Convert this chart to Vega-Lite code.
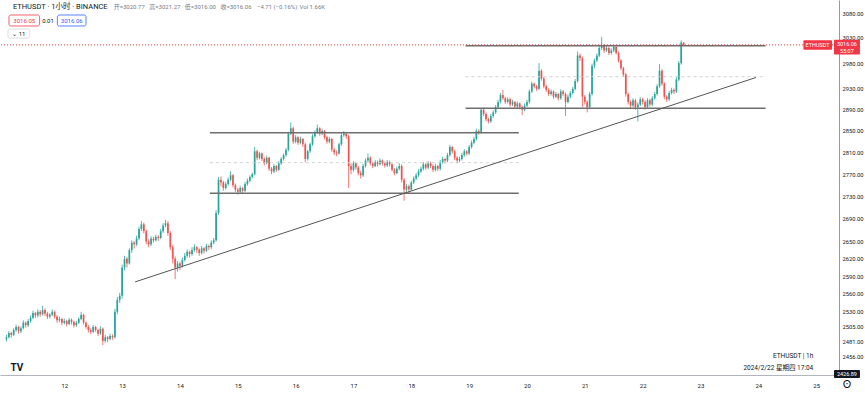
{
"$schema":"https://vega.github.io/schema/vega-lite/v6.json",
"width":839,"height":375,
"autosize":{"type":"none"},
"padding":{"left":0,"top":0,"right":26,"bottom":19},
"background":"#ffffff",
"config":{"view":{"stroke":null},"font":"Roboto, 'Noto Sans CJK SC', sans-serif"},
"datasets":{
"candles":[
{"t":"2024-02-11T00:00Z","o":2485,"h":2492,"l":2481,"c":2488},
{"t":"2024-02-11T01:00Z","o":2488,"h":2498,"l":2486,"c":2495},
{"t":"2024-02-11T02:00Z","o":2495,"h":2497,"l":2487,"c":2492},
{"t":"2024-02-11T03:00Z","o":2492,"h":2503,"l":2490,"c":2500},
{"t":"2024-02-11T04:00Z","o":2500,"h":2509,"l":2497,"c":2505},
{"t":"2024-02-11T05:00Z","o":2505,"h":2507,"l":2494,"c":2498},
{"t":"2024-02-11T06:00Z","o":2498,"h":2506,"l":2495,"c":2503},
{"t":"2024-02-11T07:00Z","o":2503,"h":2516,"l":2501,"c":2512},
{"t":"2024-02-11T08:00Z","o":2512,"h":2514,"l":2504,"c":2508},
{"t":"2024-02-11T09:00Z","o":2508,"h":2518,"l":2505,"c":2515},
{"t":"2024-02-11T10:00Z","o":2515,"h":2524,"l":2512,"c":2520},
{"t":"2024-02-11T11:00Z","o":2520,"h":2532,"l":2518,"c":2528},
{"t":"2024-02-11T12:00Z","o":2528,"h":2530,"l":2520,"c":2524},
{"t":"2024-02-11T13:00Z","o":2524,"h":2534,"l":2521,"c":2530},
{"t":"2024-02-11T14:00Z","o":2530,"h":2533,"l":2522,"c":2526},
{"t":"2024-02-11T15:00Z","o":2526,"h":2540,"l":2524,"c":2533},
{"t":"2024-02-11T16:00Z","o":2533,"h":2536,"l":2523,"c":2527},
{"t":"2024-02-11T17:00Z","o":2527,"h":2530,"l":2518,"c":2522},
{"t":"2024-02-11T18:00Z","o":2522,"h":2528,"l":2519,"c":2525},
{"t":"2024-02-11T19:00Z","o":2525,"h":2534,"l":2523,"c":2530},
{"t":"2024-02-11T20:00Z","o":2530,"h":2532,"l":2519,"c":2522},
{"t":"2024-02-11T21:00Z","o":2522,"h":2525,"l":2512,"c":2516},
{"t":"2024-02-11T22:00Z","o":2516,"h":2522,"l":2513,"c":2518},
{"t":"2024-02-11T23:00Z","o":2518,"h":2520,"l":2508,"c":2512},
{"t":"2024-02-12T00:00Z","o":2512,"h":2519,"l":2509,"c":2515},
{"t":"2024-02-12T01:00Z","o":2515,"h":2517,"l":2506,"c":2510},
{"t":"2024-02-12T02:00Z","o":2510,"h":2520,"l":2508,"c":2517},
{"t":"2024-02-12T03:00Z","o":2517,"h":2519,"l":2509,"c":2513},
{"t":"2024-02-12T04:00Z","o":2513,"h":2515,"l":2504,"c":2508},
{"t":"2024-02-12T05:00Z","o":2508,"h":2515,"l":2505,"c":2512},
{"t":"2024-02-12T06:00Z","o":2512,"h":2521,"l":2510,"c":2518},
{"t":"2024-02-12T07:00Z","o":2518,"h":2530,"l":2516,"c":2525},
{"t":"2024-02-12T08:00Z","o":2525,"h":2527,"l":2509,"c":2512},
{"t":"2024-02-12T09:00Z","o":2512,"h":2514,"l":2502,"c":2505},
{"t":"2024-02-12T10:00Z","o":2505,"h":2508,"l":2496,"c":2500},
{"t":"2024-02-12T11:00Z","o":2500,"h":2503,"l":2493,"c":2497},
{"t":"2024-02-12T12:00Z","o":2497,"h":2508,"l":2495,"c":2505},
{"t":"2024-02-12T13:00Z","o":2505,"h":2507,"l":2497,"c":2500},
{"t":"2024-02-12T14:00Z","o":2500,"h":2502,"l":2490,"c":2494},
{"t":"2024-02-12T15:00Z","o":2494,"h":2506,"l":2492,"c":2502},
{"t":"2024-02-12T16:00Z","o":2502,"h":2504,"l":2475,"c":2482},
{"t":"2024-02-12T17:00Z","o":2482,"h":2492,"l":2479,"c":2488},
{"t":"2024-02-12T18:00Z","o":2488,"h":2490,"l":2480,"c":2485},
{"t":"2024-02-12T19:00Z","o":2485,"h":2494,"l":2483,"c":2490},
{"t":"2024-02-12T20:00Z","o":2490,"h":2493,"l":2484,"c":2488},
{"t":"2024-02-12T21:00Z","o":2488,"h":2535,"l":2486,"c":2530},
{"t":"2024-02-12T22:00Z","o":2530,"h":2555,"l":2526,"c":2550},
{"t":"2024-02-12T23:00Z","o":2550,"h":2562,"l":2545,"c":2557},
{"t":"2024-02-13T00:00Z","o":2557,"h":2610,"l":2552,"c":2605},
{"t":"2024-02-13T01:00Z","o":2605,"h":2625,"l":2600,"c":2620},
{"t":"2024-02-13T02:00Z","o":2620,"h":2623,"l":2605,"c":2612},
{"t":"2024-02-13T03:00Z","o":2612,"h":2638,"l":2610,"c":2635},
{"t":"2024-02-13T04:00Z","o":2635,"h":2652,"l":2630,"c":2648},
{"t":"2024-02-13T05:00Z","o":2648,"h":2651,"l":2638,"c":2645},
{"t":"2024-02-13T06:00Z","o":2645,"h":2660,"l":2642,"c":2655},
{"t":"2024-02-13T07:00Z","o":2655,"h":2676,"l":2652,"c":2672},
{"t":"2024-02-13T08:00Z","o":2672,"h":2686,"l":2668,"c":2680},
{"t":"2024-02-13T09:00Z","o":2680,"h":2683,"l":2664,"c":2668},
{"t":"2024-02-13T10:00Z","o":2668,"h":2671,"l":2645,"c":2650},
{"t":"2024-02-13T11:00Z","o":2650,"h":2654,"l":2640,"c":2645},
{"t":"2024-02-13T12:00Z","o":2645,"h":2659,"l":2642,"c":2655},
{"t":"2024-02-13T13:00Z","o":2655,"h":2658,"l":2648,"c":2652},
{"t":"2024-02-13T14:00Z","o":2652,"h":2662,"l":2650,"c":2658},
{"t":"2024-02-13T15:00Z","o":2658,"h":2661,"l":2651,"c":2656},
{"t":"2024-02-13T16:00Z","o":2656,"h":2672,"l":2654,"c":2668},
{"t":"2024-02-13T17:00Z","o":2668,"h":2682,"l":2665,"c":2678},
{"t":"2024-02-13T18:00Z","o":2678,"h":2688,"l":2675,"c":2682},
{"t":"2024-02-13T19:00Z","o":2682,"h":2686,"l":2660,"c":2665},
{"t":"2024-02-13T20:00Z","o":2665,"h":2668,"l":2635,"c":2640},
{"t":"2024-02-13T21:00Z","o":2640,"h":2644,"l":2612,"c":2620},
{"t":"2024-02-13T22:00Z","o":2620,"h":2624,"l":2585,"c":2605},
{"t":"2024-02-13T23:00Z","o":2605,"h":2616,"l":2598,"c":2612},
{"t":"2024-02-14T00:00Z","o":2612,"h":2615,"l":2600,"c":2608},
{"t":"2024-02-14T01:00Z","o":2608,"h":2622,"l":2605,"c":2618},
{"t":"2024-02-14T02:00Z","o":2618,"h":2630,"l":2615,"c":2625},
{"t":"2024-02-14T03:00Z","o":2625,"h":2636,"l":2622,"c":2632},
{"t":"2024-02-14T04:00Z","o":2632,"h":2634,"l":2622,"c":2628},
{"t":"2024-02-14T05:00Z","o":2628,"h":2640,"l":2625,"c":2635},
{"t":"2024-02-14T06:00Z","o":2635,"h":2645,"l":2632,"c":2640},
{"t":"2024-02-14T07:00Z","o":2640,"h":2642,"l":2630,"c":2636},
{"t":"2024-02-14T08:00Z","o":2636,"h":2638,"l":2625,"c":2630},
{"t":"2024-02-14T09:00Z","o":2630,"h":2642,"l":2627,"c":2638},
{"t":"2024-02-14T10:00Z","o":2638,"h":2640,"l":2629,"c":2634},
{"t":"2024-02-14T11:00Z","o":2634,"h":2646,"l":2632,"c":2642},
{"t":"2024-02-14T12:00Z","o":2642,"h":2645,"l":2635,"c":2640},
{"t":"2024-02-14T13:00Z","o":2640,"h":2652,"l":2637,"c":2648},
{"t":"2024-02-14T14:00Z","o":2648,"h":2656,"l":2645,"c":2652},
{"t":"2024-02-14T15:00Z","o":2652,"h":2705,"l":2650,"c":2700},
{"t":"2024-02-14T16:00Z","o":2700,"h":2765,"l":2697,"c":2760},
{"t":"2024-02-14T17:00Z","o":2760,"h":2766,"l":2748,"c":2755},
{"t":"2024-02-14T18:00Z","o":2755,"h":2758,"l":2740,"c":2745},
{"t":"2024-02-14T19:00Z","o":2745,"h":2756,"l":2742,"c":2752},
{"t":"2024-02-14T20:00Z","o":2752,"h":2764,"l":2749,"c":2760},
{"t":"2024-02-14T21:00Z","o":2760,"h":2775,"l":2757,"c":2768},
{"t":"2024-02-14T22:00Z","o":2768,"h":2770,"l":2746,"c":2750},
{"t":"2024-02-14T23:00Z","o":2750,"h":2753,"l":2738,"c":2742},
{"t":"2024-02-15T00:00Z","o":2742,"h":2745,"l":2733,"c":2738},
{"t":"2024-02-15T01:00Z","o":2738,"h":2749,"l":2735,"c":2745},
{"t":"2024-02-15T02:00Z","o":2745,"h":2747,"l":2734,"c":2740},
{"t":"2024-02-15T03:00Z","o":2740,"h":2756,"l":2738,"c":2752},
{"t":"2024-02-15T04:00Z","o":2752,"h":2762,"l":2749,"c":2758},
{"t":"2024-02-15T05:00Z","o":2758,"h":2768,"l":2755,"c":2765},
{"t":"2024-02-15T06:00Z","o":2765,"h":2773,"l":2762,"c":2770},
{"t":"2024-02-15T07:00Z","o":2770,"h":2820,"l":2768,"c":2812},
{"t":"2024-02-15T08:00Z","o":2812,"h":2815,"l":2796,"c":2800},
{"t":"2024-02-15T09:00Z","o":2800,"h":2811,"l":2797,"c":2808},
{"t":"2024-02-15T10:00Z","o":2808,"h":2810,"l":2794,"c":2798},
{"t":"2024-02-15T11:00Z","o":2798,"h":2801,"l":2786,"c":2790},
{"t":"2024-02-15T12:00Z","o":2790,"h":2804,"l":2788,"c":2800},
{"t":"2024-02-15T13:00Z","o":2800,"h":2802,"l":2776,"c":2780},
{"t":"2024-02-15T14:00Z","o":2780,"h":2783,"l":2770,"c":2775},
{"t":"2024-02-15T15:00Z","o":2775,"h":2789,"l":2772,"c":2785},
{"t":"2024-02-15T16:00Z","o":2785,"h":2787,"l":2774,"c":2778},
{"t":"2024-02-15T17:00Z","o":2778,"h":2794,"l":2776,"c":2790},
{"t":"2024-02-15T18:00Z","o":2790,"h":2801,"l":2787,"c":2798},
{"t":"2024-02-15T19:00Z","o":2798,"h":2808,"l":2795,"c":2805},
{"t":"2024-02-15T20:00Z","o":2805,"h":2818,"l":2802,"c":2815},
{"t":"2024-02-15T21:00Z","o":2815,"h":2848,"l":2812,"c":2845},
{"t":"2024-02-15T22:00Z","o":2845,"h":2866,"l":2842,"c":2855},
{"t":"2024-02-15T23:00Z","o":2855,"h":2858,"l":2826,"c":2830},
{"t":"2024-02-16T00:00Z","o":2830,"h":2842,"l":2827,"c":2838},
{"t":"2024-02-16T01:00Z","o":2838,"h":2840,"l":2824,"c":2828},
{"t":"2024-02-16T02:00Z","o":2828,"h":2839,"l":2825,"c":2835},
{"t":"2024-02-16T03:00Z","o":2835,"h":2837,"l":2820,"c":2825},
{"t":"2024-02-16T04:00Z","o":2825,"h":2828,"l":2792,"c":2798},
{"t":"2024-02-16T05:00Z","o":2798,"h":2815,"l":2795,"c":2812},
{"t":"2024-02-16T06:00Z","o":2812,"h":2828,"l":2809,"c":2825},
{"t":"2024-02-16T07:00Z","o":2825,"h":2844,"l":2822,"c":2840},
{"t":"2024-02-16T08:00Z","o":2840,"h":2851,"l":2837,"c":2848},
{"t":"2024-02-16T09:00Z","o":2848,"h":2862,"l":2845,"c":2855},
{"t":"2024-02-16T10:00Z","o":2855,"h":2857,"l":2841,"c":2845},
{"t":"2024-02-16T11:00Z","o":2845,"h":2854,"l":2842,"c":2850},
{"t":"2024-02-16T12:00Z","o":2850,"h":2852,"l":2834,"c":2838},
{"t":"2024-02-16T13:00Z","o":2838,"h":2841,"l":2826,"c":2830},
{"t":"2024-02-16T14:00Z","o":2830,"h":2839,"l":2827,"c":2835},
{"t":"2024-02-16T15:00Z","o":2835,"h":2837,"l":2811,"c":2815},
{"t":"2024-02-16T16:00Z","o":2815,"h":2818,"l":2805,"c":2810},
{"t":"2024-02-16T17:00Z","o":2810,"h":2814,"l":2803,"c":2808},
{"t":"2024-02-16T18:00Z","o":2808,"h":2828,"l":2806,"c":2825},
{"t":"2024-02-16T19:00Z","o":2825,"h":2846,"l":2822,"c":2842},
{"t":"2024-02-16T20:00Z","o":2842,"h":2850,"l":2839,"c":2845},
{"t":"2024-02-16T21:00Z","o":2845,"h":2848,"l":2835,"c":2840},
{"t":"2024-02-16T22:00Z","o":2840,"h":2843,"l":2745,"c":2785},
{"t":"2024-02-16T23:00Z","o":2785,"h":2790,"l":2770,"c":2778},
{"t":"2024-02-17T00:00Z","o":2778,"h":2794,"l":2775,"c":2790},
{"t":"2024-02-17T01:00Z","o":2790,"h":2792,"l":2778,"c":2782},
{"t":"2024-02-17T02:00Z","o":2782,"h":2785,"l":2768,"c":2772},
{"t":"2024-02-17T03:00Z","o":2772,"h":2776,"l":2762,"c":2768},
{"t":"2024-02-17T04:00Z","o":2768,"h":2789,"l":2765,"c":2785},
{"t":"2024-02-17T05:00Z","o":2785,"h":2799,"l":2782,"c":2795},
{"t":"2024-02-17T06:00Z","o":2795,"h":2808,"l":2792,"c":2800},
{"t":"2024-02-17T07:00Z","o":2800,"h":2803,"l":2786,"c":2790},
{"t":"2024-02-17T08:00Z","o":2790,"h":2793,"l":2781,"c":2785},
{"t":"2024-02-17T09:00Z","o":2785,"h":2796,"l":2783,"c":2792},
{"t":"2024-02-17T10:00Z","o":2792,"h":2795,"l":2784,"c":2788},
{"t":"2024-02-17T11:00Z","o":2788,"h":2799,"l":2786,"c":2795},
{"t":"2024-02-17T12:00Z","o":2795,"h":2797,"l":2786,"c":2790},
{"t":"2024-02-17T13:00Z","o":2790,"h":2793,"l":2782,"c":2786},
{"t":"2024-02-17T14:00Z","o":2786,"h":2796,"l":2783,"c":2792},
{"t":"2024-02-17T15:00Z","o":2792,"h":2795,"l":2784,"c":2788},
{"t":"2024-02-17T16:00Z","o":2788,"h":2790,"l":2775,"c":2778},
{"t":"2024-02-17T17:00Z","o":2778,"h":2781,"l":2768,"c":2772},
{"t":"2024-02-17T18:00Z","o":2772,"h":2784,"l":2770,"c":2780},
{"t":"2024-02-17T19:00Z","o":2780,"h":2790,"l":2777,"c":2785},
{"t":"2024-02-17T20:00Z","o":2785,"h":2788,"l":2755,"c":2760},
{"t":"2024-02-17T21:00Z","o":2760,"h":2763,"l":2722,"c":2742},
{"t":"2024-02-17T22:00Z","o":2742,"h":2752,"l":2738,"c":2748},
{"t":"2024-02-17T23:00Z","o":2748,"h":2751,"l":2736,"c":2742},
{"t":"2024-02-18T00:00Z","o":2742,"h":2758,"l":2739,"c":2755},
{"t":"2024-02-18T01:00Z","o":2755,"h":2766,"l":2752,"c":2762},
{"t":"2024-02-18T02:00Z","o":2762,"h":2772,"l":2759,"c":2768},
{"t":"2024-02-18T03:00Z","o":2768,"h":2779,"l":2765,"c":2775},
{"t":"2024-02-18T04:00Z","o":2775,"h":2784,"l":2772,"c":2780},
{"t":"2024-02-18T05:00Z","o":2780,"h":2792,"l":2777,"c":2788},
{"t":"2024-02-18T06:00Z","o":2788,"h":2790,"l":2778,"c":2782},
{"t":"2024-02-18T07:00Z","o":2782,"h":2794,"l":2779,"c":2790},
{"t":"2024-02-18T08:00Z","o":2790,"h":2793,"l":2781,"c":2785},
{"t":"2024-02-18T09:00Z","o":2785,"h":2788,"l":2774,"c":2778},
{"t":"2024-02-18T10:00Z","o":2778,"h":2789,"l":2775,"c":2785},
{"t":"2024-02-18T11:00Z","o":2785,"h":2787,"l":2776,"c":2780},
{"t":"2024-02-18T12:00Z","o":2780,"h":2796,"l":2777,"c":2792},
{"t":"2024-02-18T13:00Z","o":2792,"h":2802,"l":2789,"c":2798},
{"t":"2024-02-18T14:00Z","o":2798,"h":2800,"l":2790,"c":2795},
{"t":"2024-02-18T15:00Z","o":2795,"h":2809,"l":2792,"c":2805},
{"t":"2024-02-18T16:00Z","o":2805,"h":2824,"l":2802,"c":2820},
{"t":"2024-02-18T17:00Z","o":2820,"h":2822,"l":2808,"c":2812},
{"t":"2024-02-18T18:00Z","o":2812,"h":2815,"l":2796,"c":2800},
{"t":"2024-02-18T19:00Z","o":2800,"h":2803,"l":2790,"c":2795},
{"t":"2024-02-18T20:00Z","o":2795,"h":2802,"l":2792,"c":2798},
{"t":"2024-02-18T21:00Z","o":2798,"h":2809,"l":2795,"c":2805},
{"t":"2024-02-18T22:00Z","o":2805,"h":2816,"l":2802,"c":2812},
{"t":"2024-02-18T23:00Z","o":2812,"h":2814,"l":2804,"c":2808},
{"t":"2024-02-19T00:00Z","o":2808,"h":2824,"l":2805,"c":2820},
{"t":"2024-02-19T01:00Z","o":2820,"h":2832,"l":2817,"c":2828},
{"t":"2024-02-19T02:00Z","o":2828,"h":2839,"l":2825,"c":2835},
{"t":"2024-02-19T03:00Z","o":2835,"h":2854,"l":2832,"c":2850},
{"t":"2024-02-19T04:00Z","o":2850,"h":2853,"l":2843,"c":2848},
{"t":"2024-02-19T05:00Z","o":2848,"h":2893,"l":2845,"c":2890},
{"t":"2024-02-19T06:00Z","o":2890,"h":2894,"l":2878,"c":2882},
{"t":"2024-02-19T07:00Z","o":2882,"h":2885,"l":2868,"c":2872},
{"t":"2024-02-19T08:00Z","o":2872,"h":2875,"l":2864,"c":2868},
{"t":"2024-02-19T09:00Z","o":2868,"h":2882,"l":2865,"c":2878},
{"t":"2024-02-19T10:00Z","o":2878,"h":2889,"l":2875,"c":2885},
{"t":"2024-02-19T11:00Z","o":2885,"h":2899,"l":2882,"c":2895},
{"t":"2024-02-19T12:00Z","o":2895,"h":2909,"l":2892,"c":2905},
{"t":"2024-02-19T13:00Z","o":2905,"h":2922,"l":2902,"c":2918},
{"t":"2024-02-19T14:00Z","o":2918,"h":2928,"l":2909,"c":2912},
{"t":"2024-02-19T15:00Z","o":2912,"h":2915,"l":2901,"c":2905},
{"t":"2024-02-19T16:00Z","o":2905,"h":2914,"l":2902,"c":2910},
{"t":"2024-02-19T17:00Z","o":2910,"h":2913,"l":2896,"c":2900},
{"t":"2024-02-19T18:00Z","o":2900,"h":2909,"l":2897,"c":2905},
{"t":"2024-02-19T19:00Z","o":2905,"h":2907,"l":2892,"c":2896},
{"t":"2024-02-19T20:00Z","o":2896,"h":2906,"l":2893,"c":2902},
{"t":"2024-02-19T21:00Z","o":2902,"h":2904,"l":2891,"c":2895},
{"t":"2024-02-19T22:00Z","o":2895,"h":2898,"l":2880,"c":2890},
{"t":"2024-02-19T23:00Z","o":2890,"h":2902,"l":2887,"c":2898},
{"t":"2024-02-20T00:00Z","o":2898,"h":2909,"l":2895,"c":2905},
{"t":"2024-02-20T01:00Z","o":2905,"h":2929,"l":2902,"c":2925},
{"t":"2024-02-20T02:00Z","o":2925,"h":2944,"l":2922,"c":2940},
{"t":"2024-02-20T03:00Z","o":2940,"h":2942,"l":2931,"c":2935},
{"t":"2024-02-20T04:00Z","o":2935,"h":2938,"l":2926,"c":2930},
{"t":"2024-02-20T05:00Z","o":2930,"h":2980,"l":2928,"c":2965},
{"t":"2024-02-20T06:00Z","o":2965,"h":2968,"l":2946,"c":2950},
{"t":"2024-02-20T07:00Z","o":2950,"h":2953,"l":2931,"c":2935},
{"t":"2024-02-20T08:00Z","o":2935,"h":2938,"l":2924,"c":2928},
{"t":"2024-02-20T09:00Z","o":2928,"h":2931,"l":2916,"c":2920},
{"t":"2024-02-20T10:00Z","o":2920,"h":2929,"l":2917,"c":2925},
{"t":"2024-02-20T11:00Z","o":2925,"h":2927,"l":2911,"c":2915},
{"t":"2024-02-20T12:00Z","o":2915,"h":2924,"l":2912,"c":2920},
{"t":"2024-02-20T13:00Z","o":2920,"h":2922,"l":2908,"c":2912},
{"t":"2024-02-20T14:00Z","o":2912,"h":2929,"l":2909,"c":2925},
{"t":"2024-02-20T15:00Z","o":2925,"h":2928,"l":2916,"c":2920},
{"t":"2024-02-20T16:00Z","o":2920,"h":2923,"l":2878,"c":2905},
{"t":"2024-02-20T17:00Z","o":2905,"h":2919,"l":2902,"c":2915},
{"t":"2024-02-20T18:00Z","o":2915,"h":2926,"l":2912,"c":2922},
{"t":"2024-02-20T19:00Z","o":2922,"h":2934,"l":2919,"c":2930},
{"t":"2024-02-20T20:00Z","o":2930,"h":2949,"l":2927,"c":2945},
{"t":"2024-02-20T21:00Z","o":2945,"h":3003,"l":2942,"c":2995},
{"t":"2024-02-20T22:00Z","o":2995,"h":2999,"l":2984,"c":2990},
{"t":"2024-02-20T23:00Z","o":2990,"h":2993,"l":2895,"c":2915},
{"t":"2024-02-21T00:00Z","o":2915,"h":2918,"l":2900,"c":2905},
{"t":"2024-02-21T01:00Z","o":2905,"h":2908,"l":2885,"c":2895},
{"t":"2024-02-21T02:00Z","o":2895,"h":2924,"l":2892,"c":2920},
{"t":"2024-02-21T03:00Z","o":2920,"h":2979,"l":2917,"c":2975},
{"t":"2024-02-21T04:00Z","o":2975,"h":2989,"l":2970,"c":2985},
{"t":"2024-02-21T05:00Z","o":2985,"h":2999,"l":2982,"c":2995},
{"t":"2024-02-21T06:00Z","o":2995,"h":3014,"l":2992,"c":3010},
{"t":"2024-02-21T07:00Z","o":3010,"h":3032,"l":3006,"c":3015},
{"t":"2024-02-21T08:00Z","o":3015,"h":3018,"l":3000,"c":3005},
{"t":"2024-02-21T09:00Z","o":3005,"h":3014,"l":3002,"c":3010},
{"t":"2024-02-21T10:00Z","o":3010,"h":3013,"l":2996,"c":3000},
{"t":"2024-02-21T11:00Z","o":3000,"h":3009,"l":2997,"c":3005},
{"t":"2024-02-21T12:00Z","o":3005,"h":3016,"l":3002,"c":3012},
{"t":"2024-02-21T13:00Z","o":3012,"h":3014,"l":2997,"c":3000},
{"t":"2024-02-21T14:00Z","o":3000,"h":3003,"l":2981,"c":2985},
{"t":"2024-02-21T15:00Z","o":2985,"h":2988,"l":2966,"c":2970},
{"t":"2024-02-21T16:00Z","o":2970,"h":2973,"l":2953,"c":2958},
{"t":"2024-02-21T17:00Z","o":2958,"h":2961,"l":2915,"c":2920},
{"t":"2024-02-21T18:00Z","o":2920,"h":2923,"l":2900,"c":2905},
{"t":"2024-02-21T19:00Z","o":2905,"h":2908,"l":2893,"c":2898},
{"t":"2024-02-21T20:00Z","o":2898,"h":2912,"l":2895,"c":2908},
{"t":"2024-02-21T21:00Z","o":2908,"h":2911,"l":2890,"c":2895},
{"t":"2024-02-21T22:00Z","o":2895,"h":2904,"l":2868,"c":2900},
{"t":"2024-02-21T23:00Z","o":2900,"h":2914,"l":2897,"c":2910},
{"t":"2024-02-22T00:00Z","o":2910,"h":2913,"l":2900,"c":2905},
{"t":"2024-02-22T01:00Z","o":2905,"h":2908,"l":2890,"c":2895},
{"t":"2024-02-22T02:00Z","o":2895,"h":2912,"l":2892,"c":2908},
{"t":"2024-02-22T03:00Z","o":2908,"h":2911,"l":2896,"c":2900},
{"t":"2024-02-22T04:00Z","o":2900,"h":2916,"l":2897,"c":2912},
{"t":"2024-02-22T05:00Z","o":2912,"h":2924,"l":2909,"c":2920},
{"t":"2024-02-22T06:00Z","o":2920,"h":2939,"l":2917,"c":2935},
{"t":"2024-02-22T07:00Z","o":2935,"h":2978,"l":2932,"c":2965},
{"t":"2024-02-22T08:00Z","o":2965,"h":2968,"l":2936,"c":2940},
{"t":"2024-02-22T09:00Z","o":2940,"h":2943,"l":2910,"c":2915},
{"t":"2024-02-22T10:00Z","o":2915,"h":2918,"l":2905,"c":2910},
{"t":"2024-02-22T11:00Z","o":2910,"h":2926,"l":2907,"c":2922},
{"t":"2024-02-22T12:00Z","o":2922,"h":2932,"l":2919,"c":2928},
{"t":"2024-02-22T13:00Z","o":2928,"h":2931,"l":2920,"c":2925},
{"t":"2024-02-22T14:00Z","o":2925,"h":2953,"l":2922,"c":2948},
{"t":"2024-02-22T15:00Z","o":2948,"h":2984,"l":2945,"c":2980},
{"t":"2024-02-22T16:00Z","o":2980,"h":3025,"l":2977,"c":3020.77},
{"t":"2024-02-22T17:00Z","o":3020.77,"h":3021.27,"l":3016,"c":3016.06}
],
"levels":[
{"t1":"2024-02-14T12:24Z","t2":"2024-02-19T20:36Z","p":2846.7},
{"t1":"2024-02-14T12:24Z","t2":"2024-02-19T20:36Z","p":2735.4},
{"t1":"2024-02-18T22:30Z","t2":"2024-02-24T03:00Z","p":3014.4},
{"t1":"2024-02-18T22:30Z","t2":"2024-02-24T03:00Z","p":2892.8}
],
"mids":[
{"t1":"2024-02-14T12:24Z","t2":"2024-02-19T20:36Z","p":2791},
{"t1":"2024-02-18T22:30Z","t2":"2024-02-24T03:00Z","p":2953.6}
],
"trend":[
{"t1":"2024-02-13T05:24Z","p1":2580.4,"t2":"2024-02-23T23:00Z","p2":2952}
]
},
"layer":[
{
"data":{"name":"candles"},
"mark":{"type":"rule","strokeWidth":0.8},
"encoding":{
"x":{"field":"t","type":"temporal","title":null,
"scale":{"type":"utc","nice":false,"domain":[{"year":2024,"month":2,"date":10,"hours":23,"minutes":24,"utc":true},{"year":2024,"month":2,"date":25,"hours":7,"minutes":24,"utc":true}]},
"axis":{"orient":"bottom","title":null,"grid":false,"ticks":false,"domainColor":"#b2b5be","labelColor":"#131722","labelFontSize":6,"labelPadding":7,"labelFlush":false,"labelOverlap":false,
"values":[{"year":2024,"month":2,"date":12,"utc":true},{"year":2024,"month":2,"date":13,"utc":true},{"year":2024,"month":2,"date":14,"utc":true},{"year":2024,"month":2,"date":15,"utc":true},{"year":2024,"month":2,"date":16,"utc":true},{"year":2024,"month":2,"date":17,"utc":true},{"year":2024,"month":2,"date":18,"utc":true},{"year":2024,"month":2,"date":19,"utc":true},{"year":2024,"month":2,"date":20,"utc":true},{"year":2024,"month":2,"date":21,"utc":true},{"year":2024,"month":2,"date":22,"utc":true},{"year":2024,"month":2,"date":23,"utc":true},{"year":2024,"month":2,"date":24,"utc":true},{"year":2024,"month":2,"date":25,"utc":true}],
"labelExpr":"utcFormat(datum.value, '%-d')"}},
"y":{"field":"l","type":"quantitative","title":null,
"scale":{"type":"log","domain":[2427,3106.5],"nice":false,"zero":false},
"axis":{"orient":"right","title":null,"grid":false,"ticks":false,"domainColor":"#9598a1","labelColor":"#131722","labelFontSize":5.8,"labelPadding":3,"labelFlush":false,"labelOverlap":false,"format":".2f",
"values":[3080,3030,2980,2930,2890,2850,2810,2770,2730,2690,2650,2620,2590,2560,2530,2505,2481,2456]}},
"y2":{"field":"h"},
"color":{"condition":{"test":"datum.c >= datum.o","value":"#26a69a"},"value":"#ef5350"}
}
},
{
"data":{"name":"candles"},
"mark":{"type":"bar","size":1.7},
"encoding":{
"x":{"field":"t","type":"temporal","title":null},
"y":{"field":"o","type":"quantitative","title":null},
"y2":{"field":"c"},
"color":{"condition":{"test":"datum.c >= datum.o","value":"#26a69a"},"value":"#ef5350"}
}
},
{
"data":{"name":"mids"},
"mark":{"type":"rule","stroke":"#cfd1d6","strokeWidth":1,"strokeDash":[3,3]},
"encoding":{
"x":{"field":"t1","type":"temporal","title":null},
"x2":{"field":"t2"},
"y":{"field":"p","type":"quantitative","title":null}
}
},
{
"data":{"name":"levels"},
"mark":{"type":"rule","stroke":"#6e6e6e","strokeWidth":1.4},
"encoding":{
"x":{"field":"t1","type":"temporal","title":null},
"x2":{"field":"t2"},
"y":{"field":"p","type":"quantitative","title":null}
}
},
{
"data":{"name":"trend"},
"mark":{"type":"rule","stroke":"#555555","strokeWidth":1},
"encoding":{
"x":{"field":"t1","type":"temporal","title":null},
"x2":{"field":"t2"},
"y":{"field":"p1","type":"quantitative","title":null},
"y2":{"field":"p2"}
}
},
{
"data":{"values":[{"p":3016.06}]},
"mark":{"type":"rule","stroke":"#f23645","strokeWidth":1,"strokeDash":[1,2]},
"encoding":{"y":{"field":"p","type":"quantitative","title":null}}
},
{
"data":{"values":[{"t":"2024-02-11T01:03Z","t2":"2024-02-11T13:46Z","p":3076,"p2":3053.8}]},
"mark":{"type":"rect","cornerRadius":2,"fill":"#ffffff","stroke":"#f23645","strokeWidth":0.8,"clip":false},
"encoding":{"x":{"field":"t","type":"temporal","title":null},"x2":{"field":"t2"},"y":{"field":"p","type":"quantitative","title":null},"y2":{"field":"p2"}}
},
{
"data":{"values":[{"t":"2024-02-11T21:08Z","t2":"2024-02-12T09:01Z","p":3076,"p2":3053.8}]},
"mark":{"type":"rect","cornerRadius":2,"fill":"#ffffff","stroke":"#2962ff","strokeWidth":0.8,"clip":false},
"encoding":{"x":{"field":"t","type":"temporal","title":null},"x2":{"field":"t2"},"y":{"field":"p","type":"quantitative","title":null},"y2":{"field":"p2"}}
},
{
"data":{"values":[{"t":"2024-02-11T00:38Z","t2":"2024-02-11T09:39Z","p":3047.7,"p2":3029.6}]},
"mark":{"type":"rect","cornerRadius":2,"fill":"#ffffff","stroke":"#d1d4dc","strokeWidth":0.8,"clip":false},
"encoding":{"x":{"field":"t","type":"temporal","title":null},"x2":{"field":"t2"},"y":{"field":"p","type":"quantitative","title":null},"y2":{"field":"p2"}}
},
{
"data":{"values":[{"t":"2024-02-24T18:42Z","t2":"2024-02-25T06:36Z","p":3025.3,"p2":3006.5},{"t":"2024-02-25T07:24Z","t2":"2024-02-25T18:10Z","p":3026.3,"p2":2996.8}]},
"mark":{"type":"rect","cornerRadius":1,"fill":"#f23645","clip":false},
"encoding":{"x":{"field":"t","type":"temporal","title":null},"x2":{"field":"t2"},"y":{"field":"p","type":"quantitative","title":null},"y2":{"field":"p2"}}
},
{
"data":{"values":[{"t":"2024-02-25T07:24Z","t2":"2024-02-25T18:10Z","p":2435.2,"p2":2422.4}]},
"mark":{"type":"rect","cornerRadius":1,"fill":"#131722","clip":false},
"encoding":{"x":{"field":"t","type":"temporal","title":null},"x2":{"field":"t2"},"y":{"field":"p","type":"quantitative","title":null},"y2":{"field":"p2"}}
},
{
"data":{"values":[{"t":"2024-02-11T02:41Z","p":3092.2,"label":"ETHUSDT · 1小时 · BINANCE"}]},
"mark":{"type":"text","align":"left","baseline":"middle","fontSize":7.5,"color":"#131722","clip":false},
"encoding":{"x":{"field":"t","type":"temporal","title":null},"y":{"field":"p","type":"quantitative","title":null},"text":{"field":"label"}}
},
{
"data":{"values":[
{"t":"2024-02-12T20:30Z","p":3092.2,"label":"开=3020.77"},
{"t":"2024-02-13T11:16Z","p":3092.2,"label":"高=3021.27"},
{"t":"2024-02-14T02:01Z","p":3092.2,"label":"低=3016.00"},
{"t":"2024-02-14T16:47Z","p":3092.2,"label":"收=3016.06"},
{"t":"2024-02-15T07:57Z","p":3092.2,"label":"−4.71 (−0.16%)"},
{"t":"2024-02-16T01:38Z","p":3092.2,"label":"Vol 1.66K"}
]},
"mark":{"type":"text","align":"left","baseline":"middle","fontSize":6,"color":"#787b86","clip":false},
"encoding":{"x":{"field":"t","type":"temporal","title":null},"y":{"field":"p","type":"quantitative","title":null},"text":{"field":"label"}}
},
{
"data":{"values":[{"t":"2024-02-11T07:24Z","p":3064.8,"label":"3016.05"}]},
"mark":{"type":"text","align":"center","baseline":"middle","fontSize":6,"color":"#f23645","clip":false},
"encoding":{"x":{"field":"t","type":"temporal","title":null},"y":{"field":"p","type":"quantitative","title":null},"text":{"field":"label"}}
},
{
"data":{"values":[{"t":"2024-02-12T03:05Z","p":3064.8,"label":"3016.06"}]},
"mark":{"type":"text","align":"center","baseline":"middle","fontSize":6,"color":"#2962ff","clip":false},
"encoding":{"x":{"field":"t","type":"temporal","title":null},"y":{"field":"p","type":"quantitative","title":null},"text":{"field":"label"}}
},
{
"data":{"values":[{"t":"2024-02-11T17:14Z","p":3064.8,"label":"0.01"},{"t":"2024-02-11T05:08Z","p":3038.6,"label":"⌄ 11"}]},
"mark":{"type":"text","align":"center","baseline":"middle","fontSize":6,"color":"#131722","clip":false},
"encoding":{"x":{"field":"t","type":"temporal","title":null},"y":{"field":"p","type":"quantitative","title":null},"text":{"field":"label"}}
},
{
"data":{"values":[{"t":"2024-02-25T00:36Z","p":3016,"label":"ETHUSDT"},{"t":"2024-02-25T12:45Z","p":3018,"label":"3016.06"},{"t":"2024-02-25T12:45Z","p":3004.5,"label":"55:07"},{"t":"2024-02-25T12:45Z","p":2428.8,"label":"2426.89"}]},
"mark":{"type":"text","align":"center","baseline":"middle","fontSize":5.5,"color":"#ffffff","clip":false},
"encoding":{"x":{"field":"t","type":"temporal","title":null},"y":{"field":"p","type":"quantitative","title":null},"text":{"field":"label"}}
},
{
"data":{"values":[{"t":"2024-02-24T22:48Z","p":2457.7,"label":"ETHUSDT | 1h"},{"t":"2024-02-24T22:48Z","p":2438.4,"label":"2024/2/22 星期四 17:04"}]},
"mark":{"type":"text","align":"right","baseline":"middle","fontSize":6.5,"color":"#131722","clip":false},
"encoding":{"x":{"field":"t","type":"temporal","title":null},"y":{"field":"p","type":"quantitative","title":null},"text":{"field":"label"}}
},
{
"data":{"values":[{"t":"2024-02-11T04:19Z","p":2438,"label":"TV"},{"t":"2024-02-25T12:45Z","p":2411.3,"label":"⊙"}]},
"mark":{"type":"text","align":"center","baseline":"middle","fontSize":10,"fontWeight":"bold","color":"#131722","clip":false},
"encoding":{"x":{"field":"t","type":"temporal","title":null},"y":{"field":"p","type":"quantitative","title":null},"text":{"field":"label"}}
}
]
}
